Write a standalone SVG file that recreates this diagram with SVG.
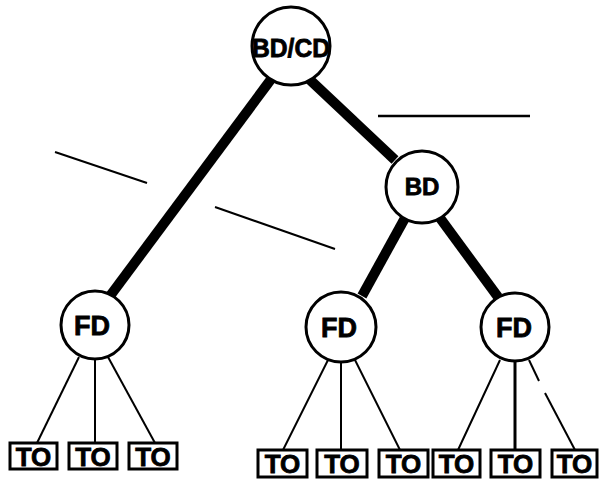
<svg xmlns="http://www.w3.org/2000/svg" width="601" height="486" viewBox="0 0 601 486">
<style>
.n{fill:#fff;stroke:#000;stroke-width:3}
.t{font-family:"Liberation Sans",Arial,sans-serif;font-weight:bold;fill:#000;stroke:#000;stroke-width:0.8;text-anchor:middle}
.thick{stroke:#000;stroke-width:10;fill:none}
.thin{stroke:#000;stroke-width:2;fill:none}
.box{fill:#fff;stroke:#000;stroke-width:3}
</style>
<rect width="601" height="486" fill="#fff"/>
<g id="connectors">
<line class="thick" x1="272" y1="78" x2="110" y2="296"/>
<line class="thick" x1="308" y1="78" x2="395" y2="160"/>
<line class="thick" x1="405" y1="218" x2="362" y2="296"/>
<line class="thick" x1="440" y1="218" x2="498" y2="297"/>
<line class="thin" x1="79" y1="357" x2="37" y2="443"/>
<line class="thin" x1="95" y1="359" x2="95" y2="443"/>
<line class="thin" x1="108" y1="357" x2="155" y2="443"/>
<line class="thin" x1="328" y1="360" x2="283" y2="450"/>
<line class="thin" x1="341" y1="362" x2="341" y2="450"/>
<line class="thin" x1="355" y1="360" x2="400" y2="450"/>
<line class="thin" x1="500" y1="360" x2="458" y2="450"/>
<line class="thin" x1="515" y1="362" x2="515" y2="450" style="stroke-width:3"/>
<line class="thin" x1="529" y1="360" x2="539" y2="381"/>
<line class="thin" x1="545" y1="393" x2="575" y2="450"/>
</g>
<g id="marks">
<line class="thin" x1="55" y1="152" x2="147" y2="183"/>
<line class="thin" x1="215" y1="207" x2="335" y2="249"/>
<line class="thin" x1="378" y1="116" x2="530" y2="116" style="stroke-width:2.5"/>
</g>
<g id="root"><circle class="n" cx="291" cy="46" r="39"/><text class="t" x="291" y="57" font-size="25" textLength="78" lengthAdjust="spacingAndGlyphs">BD/CD</text></g>
<g id="bd"><circle class="n" cx="422" cy="187" r="36"/><text class="t" x="422" y="195" font-size="24">BD</text></g>
<g id="fd1"><circle class="n" cx="95" cy="325" r="34"/><text class="t" x="92" y="335" font-size="27">FD</text></g>
<g id="fd2"><circle class="n" cx="341" cy="327" r="35"/><text class="t" x="339" y="337" font-size="27">FD</text></g>
<g id="fd3"><circle class="n" cx="515" cy="327" r="34"/><text class="t" x="514" y="337" font-size="27">FD</text></g>
<g id="to1"><rect class="box" x="10" y="443" width="47" height="26"/><text class="t" x="33.5" y="466" font-size="26">TO</text></g>
<g id="to2"><rect class="box" x="69" y="443" width="48" height="26"/><text class="t" x="93" y="466" font-size="26">TO</text></g>
<g id="to3"><rect class="box" x="129" y="443" width="48" height="26"/><text class="t" x="153" y="466" font-size="26">TO</text></g>
<g id="to4"><rect class="box" x="258" y="450" width="49" height="27"/><text class="t" x="282.5" y="473" font-size="26">TO</text></g>
<g id="to5"><rect class="box" x="317" y="450" width="50" height="27"/><text class="t" x="342" y="473" font-size="26">TO</text></g>
<g id="to6"><rect class="box" x="379" y="450" width="49" height="27"/><text class="t" x="403.5" y="473" font-size="26">TO</text></g>
<g id="to7"><rect class="box" x="433" y="450" width="47" height="27"/><text class="t" x="456.5" y="473" font-size="26">TO</text></g>
<g id="to8"><rect class="box" x="491" y="450" width="49" height="27"/><text class="t" x="515.5" y="473" font-size="26">TO</text></g>
<g id="to9"><rect class="box" x="552" y="450" width="45" height="27"/><text class="t" x="574.5" y="473" font-size="26">TO</text></g>
</svg>
